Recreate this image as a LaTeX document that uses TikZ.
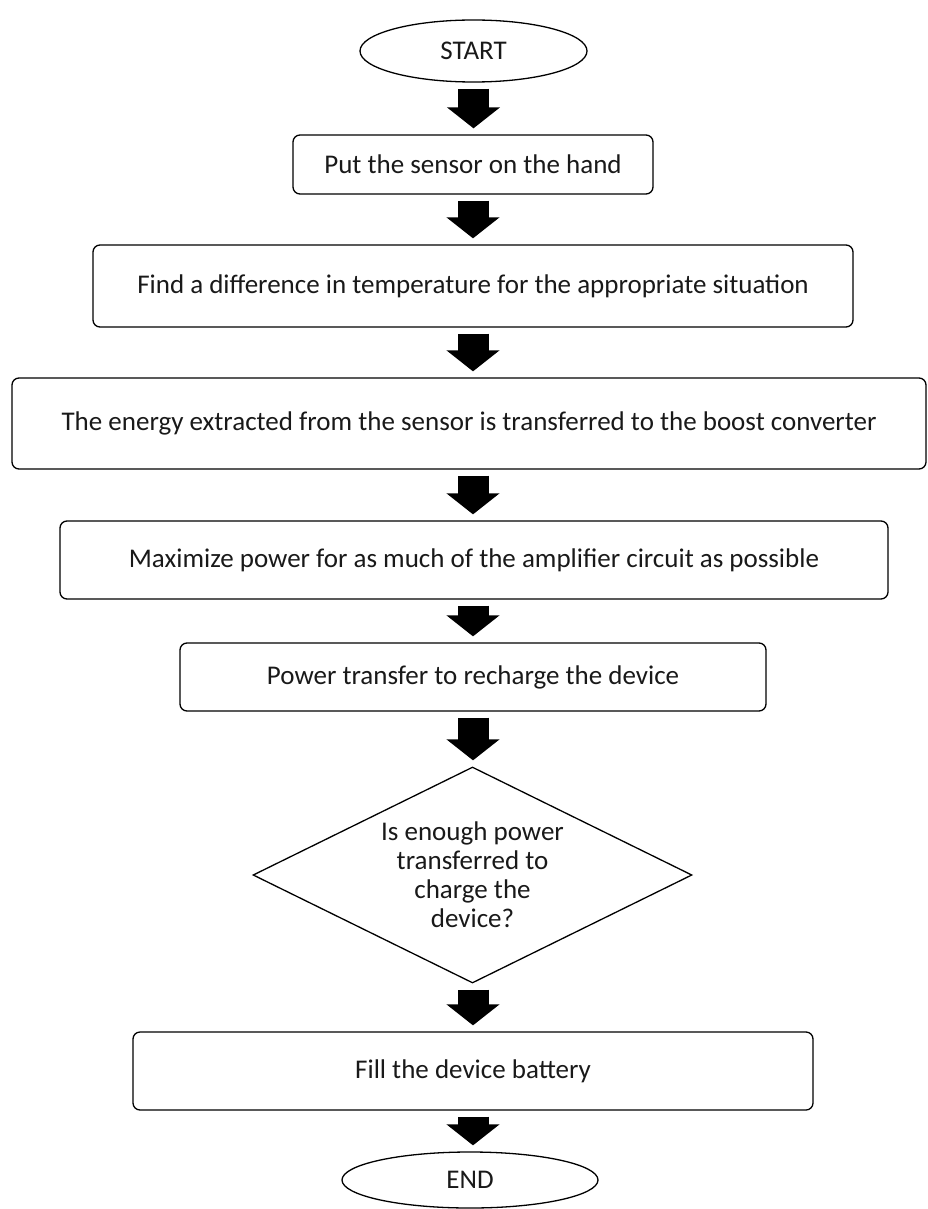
\documentclass[tikz,border=0pt]{standalone}
\usepackage{fontspec}
\setmainfont{Carlito}
\usetikzlibrary{shapes.geometric,arrows.meta}
\begin{document}
\begin{tikzpicture}[x=1pt,y=-1pt,
  txt/.style={font=\fontsize{27}{29}\selectfont,text=black!90,align=center},
  base/.style={draw=black,line width=1.3pt,inner sep=0pt,txt},
  procbox/.style={base,rectangle,rounded corners=7pt},
  term/.style={base,ellipse},
  decision/.style={base,diamond},
  bigarrow/.style={line width=31pt,-{Triangle[width=52pt,length=21pt]},
    shorten <=6pt,shorten >=6pt}
]
\useasboundingbox (0,0) rectangle (927,1209);
\node[term,minimum width=227pt,minimum height=62pt] (start) at (473.5,51) {START};
\node[procbox,minimum width=360pt,minimum height=59pt] (b1) at (473,164.5) {Put the sensor on the hand};
\node[procbox,minimum width=760pt,minimum height=82pt] (b2) at (473,286) {Find a difference in temperature for the appropriate situation};
\node[procbox,minimum width=914pt,minimum height=91pt] (b3) at (469,423.5) {The energy extracted from the sensor is transferred to the boost converter};
\node[procbox,minimum width=828pt,minimum height=78pt] (b4) at (474,560) {Maximize power for as much of the amplifier circuit as possible};
\node[procbox,minimum width=586pt,minimum height=68pt] (b5) at (473,677) {Power transfer to recharge the device};
\node[decision,minimum width=439pt,minimum height=216pt,
  label={[txt]center:{Is enough power\\transferred to\\charge the\\device?}}] (d) at (472.5,875) {};
\node[procbox,minimum width=680pt,minimum height=78pt] (b6) at (473,1071) {Fill the device battery};
\node[term,minimum width=256pt,minimum height=56pt] (end) at (470,1180) {END};
\draw[bigarrow] (start.south) -- (start.south |- b1.north);
\draw[bigarrow] (b1.south) -- (b1.south |- b2.north);
\draw[bigarrow] (b2.south) -- (b2.south |- b3.north);
\draw[bigarrow] (b2.south |- b3.south) -- (b2.south |- b4.north);
\draw[bigarrow] (b5.north |- b4.south) -- (b5.north);
\draw[bigarrow] (b5.south) -- (b5.south |- d.north);
\draw[bigarrow] (b5.south |- d.south) -- (b5.south |- b6.north);
\draw[bigarrow] (b6.south) -- (b6.south |- end.north);
\end{tikzpicture}
\end{document}
